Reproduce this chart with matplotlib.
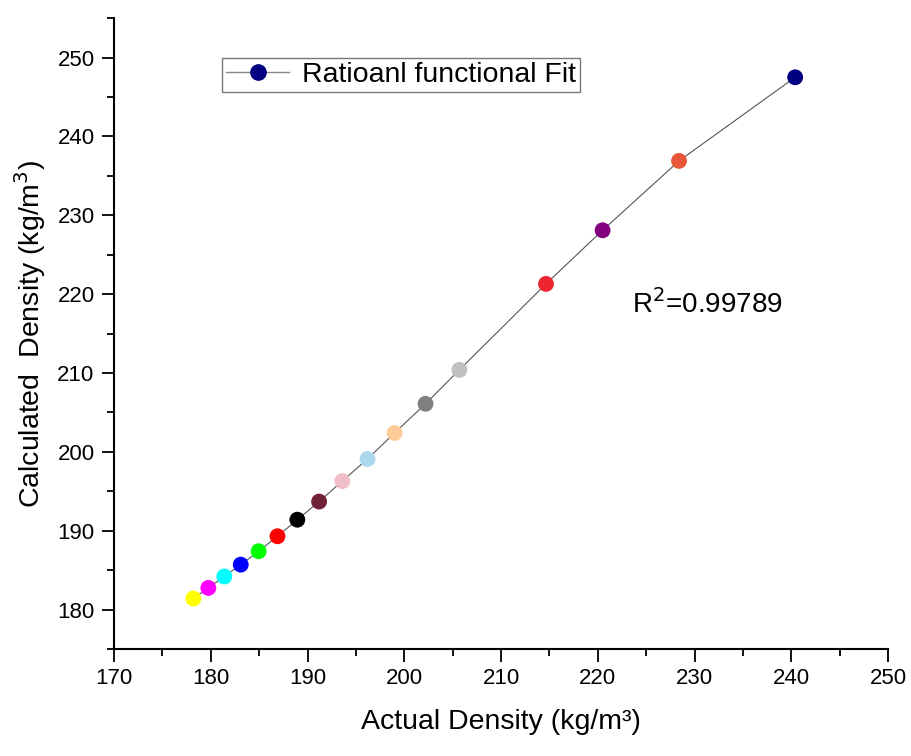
import matplotlib
matplotlib.use("Agg")
import matplotlib.pyplot as plt
from matplotlib.ticker import MultipleLocator
from matplotlib.lines import Line2D

plt.rcParams['font.family'] = ['Liberation Sans', 'DejaVu Sans']

actual = [178.2, 179.75, 181.4, 183.1, 184.95, 186.9, 188.95, 191.2, 193.6, 196.2,
          199.0, 202.2, 205.7, 214.65, 220.5, 228.4, 240.4]
calculated = [181.4, 182.75, 184.2, 185.7, 187.4, 189.3, 191.4, 193.7, 196.3, 199.1,
              202.4, 206.1, 210.4, 221.3, 228.1, 236.9, 247.5]
colors = ['#FFFF00', '#FF00FF', '#00FFFF', '#0000FF', '#00FF00', '#FF0000', '#000000',
          '#722238', '#F0BCC8', '#AAD8EC', '#FFCC99', '#808080', '#C0C0C0', '#EE2530',
          '#800080', '#E8573A', '#000080']
legend_label = 'Ratioanl functional Fit'
r2_text = 'R$^2$=0.99789'

fig = plt.figure(figsize=(9.12, 7.56), dpi=100)
ax = fig.add_axes([0.125, 0.1415, 0.8487, 0.8345])

ax.plot(actual, calculated, color='#555555', lw=0.8, zorder=1)
ax.scatter(actual, calculated, c=colors, s=130, zorder=2, edgecolors='none')

ax.set_xlim(170, 250)
ax.set_ylim(175, 255)
ax.xaxis.set_major_locator(MultipleLocator(10))
ax.xaxis.set_minor_locator(MultipleLocator(5))
ax.yaxis.set_major_locator(MultipleLocator(10))
ax.yaxis.set_minor_locator(MultipleLocator(5))
ax.spines['top'].set_visible(False)
ax.spines['right'].set_visible(False)
ax.spines['left'].set_linewidth(1.5)
ax.spines['bottom'].set_linewidth(1.5)
ax.tick_params(which='major', length=9, width=1.3, labelsize=16, direction='out', pad=5)
ax.tick_params(which='minor', length=5, width=1.3, direction='out')
ax.set_yticks([180, 190, 200, 210, 220, 230, 240, 250])

ax.set_xlabel('Actual Density (kg/m³)', fontsize=20.5, labelpad=14)
ax.set_ylabel('Calculated  Density (kg/m$^3$)', fontsize=20.5, labelpad=7)

handle = Line2D([], [], color='#888888', lw=1, marker='o', markersize=11,
                markerfacecolor='#000080', markeredgecolor='#000080')
leg = ax.legend([handle], [legend_label], loc='upper left', bbox_to_anchor=(0.1395, 0.937),
                fontsize=20.5, frameon=True, fancybox=False, handlelength=2.2,
                borderpad=0.15, handletextpad=0.45, borderaxespad=0)
leg.get_frame().set_edgecolor('#555555')
leg.get_frame().set_linewidth(1)

ax.text(223.5, 218.7, r2_text, fontsize=20, ha='left', va='center')

fig.savefig('out.png', dpi=100)
